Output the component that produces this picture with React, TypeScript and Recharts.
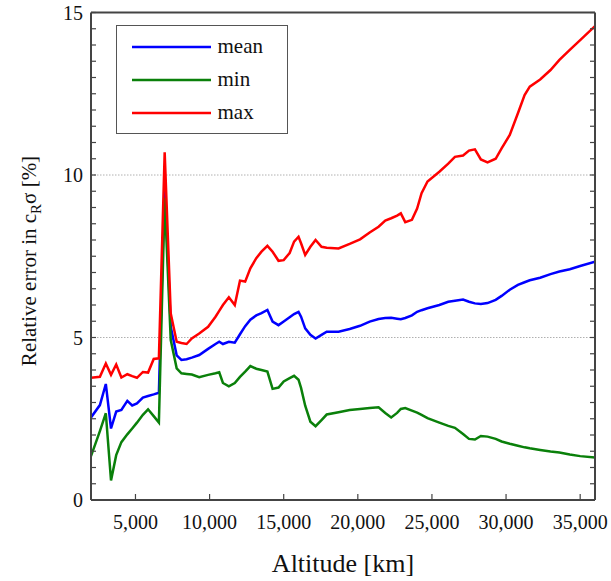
import React from 'react';
import { LineChart, Line, XAxis, YAxis, ReferenceLine, Legend } from 'recharts';

const altitudes = [2000, 2600, 3000, 3350, 3700, 4050, 4450, 4780, 5100, 5500, 5850, 6230, 6580, 6970, 7380, 7780, 8100, 8450, 8800, 9300, 9900, 10400, 10650, 10900, 11300, 11700, 12050, 12400, 12750, 13150, 13500, 13900, 14250, 14650, 15000, 15400, 15700, 16000, 16170, 16450, 16800, 17150, 17550, 17900, 18700, 19450, 20150, 20800, 21400, 21850, 22250, 22650, 22900, 23200, 23650, 24000, 24300, 24700, 25500, 26100, 26550, 27100, 27500, 27900, 28300, 28750, 29300, 29700, 30250, 30800, 31250, 31600, 32300, 33000, 33600, 34300, 35000, 36000];

const meanValues = [2.54, 2.92, 3.57, 2.2, 2.72, 2.77, 3.05, 2.91, 2.97, 3.15, 3.2, 3.25, 3.3, 9.8, 5.33, 4.45, 4.31, 4.33, 4.38, 4.46, 4.65, 4.8, 4.87, 4.8, 4.87, 4.84, 5.1, 5.35, 5.55, 5.68, 5.75, 5.85, 5.49, 5.38, 5.49, 5.62, 5.72, 5.79, 5.64, 5.28, 5.08, 4.97, 5.08, 5.18, 5.18, 5.26, 5.36, 5.49, 5.57, 5.6, 5.61, 5.58, 5.56, 5.6, 5.68, 5.79, 5.84, 5.9, 6.0, 6.1, 6.13, 6.17, 6.1, 6.05, 6.03, 6.06, 6.16, 6.28, 6.47, 6.62, 6.7, 6.76, 6.84, 6.95, 7.03, 7.1, 7.2, 7.33];

const minValues = [1.35, 2.12, 2.67, 0.6, 1.38, 1.78, 2.02, 2.2, 2.38, 2.62, 2.79, 2.58, 2.38, 9.3, 4.92, 4.05, 3.9, 3.88, 3.86, 3.78, 3.85, 3.9, 3.93, 3.6, 3.5, 3.6, 3.79, 3.95, 4.12, 4.04, 4.0, 3.95, 3.42, 3.46, 3.65, 3.75, 3.82, 3.7, 3.45, 2.9, 2.41, 2.27, 2.46, 2.63, 2.7, 2.77, 2.8, 2.83, 2.85, 2.68, 2.54, 2.68, 2.8, 2.83, 2.75, 2.69, 2.62, 2.52, 2.38, 2.28, 2.22, 2.03, 1.88, 1.86, 1.97, 1.95, 1.88, 1.8, 1.73, 1.67, 1.62, 1.59, 1.54, 1.49, 1.46, 1.4, 1.35, 1.31];

const maxValues = [3.76, 3.79, 4.2, 3.85, 4.17, 3.77, 3.87, 3.81, 3.76, 3.94, 3.92, 4.34, 4.36, 10.7, 5.74, 4.87, 4.83, 4.8, 4.97, 5.12, 5.33, 5.64, 5.82, 6.0, 6.24, 6.0, 6.75, 6.72, 7.13, 7.44, 7.64, 7.82, 7.64, 7.36, 7.38, 7.6, 7.95, 8.1, 7.9, 7.54, 7.79, 8.0, 7.79, 7.76, 7.74, 7.88, 8.02, 8.23, 8.41, 8.6, 8.67, 8.75, 8.82, 8.55, 8.62, 8.97, 9.44, 9.8, 10.1, 10.35, 10.56, 10.6, 10.75, 10.79, 10.48, 10.39, 10.5, 10.82, 11.23, 11.9, 12.46, 12.72, 12.94, 13.23, 13.54, 13.85, 14.15, 14.58];

const xTicks = [5000, 10000, 15000, 20000, 25000, 30000, 35000];
const yMajorTicks = [0, 5, 10, 15];
const yTicks = Array.from({ length: 31 }, (_, i) => i * 0.5);
const gridValues = [5, 10];

const seriesNames = ['mean', 'min', 'max'];
const seriesColors = ['#0000ff', '#0a800a', '#ff0000'];

const data = altitudes.map((alt, i) => ({
  altitude: alt,
  mean: meanValues[i],
  min: minValues[i],
  max: maxValues[i],
}));

const FONT = 'Liberation Serif, DejaVu Serif, Times New Roman, serif';
const AXIS = '#444444';

const LeftTick = (props: any) => {
  const { x, y, payload } = props;
  const v = payload.value;
  const major = yMajorTicks.includes(v);
  return (
    <g>
      <line x1={x} x2={x + 5} y1={y} y2={y} stroke={AXIS} strokeWidth={1.2} />
      {major && (
        <text x={x - 8} y={y} dy="0.35em" textAnchor="end" fontSize={20} style={{ fontFamily: FONT }} fill="#111">
          {v}
        </text>
      )}
    </g>
  );
};

const RightTick = (props: any) => {
  const { x, y } = props;
  return <line x1={x} x2={x - 5} y1={y} y2={y} stroke={AXIS} strokeWidth={1.2} />;
};

const BottomTick = (props: any) => {
  const { x, y, payload } = props;
  return (
    <g>
      <line x1={x} x2={x} y1={y} y2={y - 6} stroke={AXIS} strokeWidth={1.2} />
      <text x={x} y={y + 29} textAnchor="middle" fontSize={20} style={{ fontFamily: FONT }} fill="#111">
        {Number(payload.value).toLocaleString('en-US')}
      </text>
    </g>
  );
};

const TopTick = (props: any) => {
  const { x, y } = props;
  return <line x1={x} x2={x} y1={y} y2={y + 6} stroke={AXIS} strokeWidth={1.2} />;
};

const LegendBox = () => (
  <div
    style={{
      boxSizing: 'border-box',
      width: 172,
      height: 109,
      border: '1.5px solid #555',
      background: '#fff',
      paddingTop: 4,
      fontFamily: FONT,
    }}
  >
    {seriesNames.map((name, i) => (
      <div key={name} style={{ height: 33, display: 'flex', alignItems: 'center' }}>
        <svg width={79} height={4} style={{ marginLeft: 14.5, display: 'block' }}>
          <line x1={0} x2={79} y1={2} y2={2} stroke={seriesColors[i]} strokeWidth={2.5} />
        </svg>
        <span style={{ marginLeft: 7, fontSize: 21, lineHeight: 1, color: '#111', fontFamily: FONT }}>{name}</span>
      </div>
    ))}
  </div>
);

const YLabel = () => (
  <text transform="translate(36,261) rotate(-90)" textAnchor="middle" fontSize={21} style={{ fontFamily: FONT }} fill="#111">
    Relative error in c
    <tspan dy={5} fontSize={15}>R</tspan>
    <tspan dy={-5}>σ [%]</tspan>
  </text>
);

const XLabel = () => (
  <text x={343} y={572} textAnchor="middle" fontSize={26} style={{ fontFamily: FONT }} fill="#111">
    Altitude [km]
  </text>
);

export default function App() {
  return (
    <div style={{ position: 'absolute', left: 0, top: 0, fontFamily: FONT }}>
      <LineChart
        width={611}
        height={581}
        data={data}
        margin={{ top: 11.5, right: 15, bottom: 0, left: 31 }}
      >
        <XAxis
          dataKey="altitude"
          type="number"
          domain={[2000, 36000]}
          ticks={xTicks}
          interval={0}
          tickSize={0}
          tickMargin={0}
          tickLine={false}
          tick={<BottomTick />}
          height={81}
          axisLine={{ stroke: AXIS, strokeWidth: 2 }}
          allowDataOverflow
          label={{ content: () => <XLabel /> }}
        />
        <XAxis
          xAxisId="top"
          orientation="top"
          type="number"
          domain={[2000, 36000]}
          ticks={xTicks}
          interval={0}
          tickSize={0}
          tickMargin={0}
          tickLine={false}
          tick={<TopTick />}
          height={1}
          axisLine={{ stroke: AXIS, strokeWidth: 2 }}
          allowDataOverflow
        />
        <YAxis
          type="number"
          domain={[0, 15]}
          ticks={yTicks}
          interval={0}
          tickSize={0}
          tickMargin={0}
          tickLine={false}
          tick={<LeftTick />}
          width={60}
          axisLine={{ stroke: AXIS, strokeWidth: 2 }}
          allowDataOverflow
          label={{ content: () => <YLabel /> }}
        />
        <YAxis
          yAxisId="right"
          orientation="right"
          type="number"
          domain={[0, 15]}
          ticks={yTicks}
          interval={0}
          tickSize={0}
          tickMargin={0}
          tickLine={false}
          tick={<RightTick />}
          width={1}
          axisLine={{ stroke: AXIS, strokeWidth: 2 }}
          allowDataOverflow
        />
        {gridValues.map((g) => (
          <ReferenceLine key={g} y={g} stroke="#b0b0b0" strokeWidth={1} strokeDasharray="1.5 1.5" />
        ))}
        <Legend
          layout="vertical"
          verticalAlign="middle"
          align="center"
          wrapperStyle={{ left: 116, top: 25, width: 172, height: 109 }}
          content={() => <LegendBox />}
        />
        <Line type="linear" dataKey="mean" stroke={seriesColors[0]} strokeWidth={2.5} dot={false} isAnimationActive={false} />
        <Line type="linear" dataKey="min" stroke={seriesColors[1]} strokeWidth={2.5} dot={false} isAnimationActive={false} />
        <Line type="linear" dataKey="max" stroke={seriesColors[2]} strokeWidth={2.5} dot={false} isAnimationActive={false} />
      </LineChart>
    </div>
  );
}
